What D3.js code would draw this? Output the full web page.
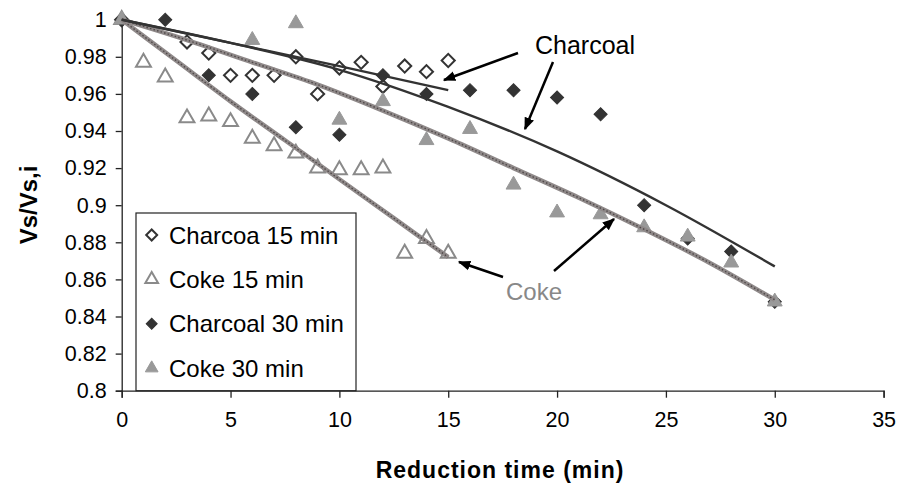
<!DOCTYPE html>
<html>
<head>
<meta charset="utf-8">
<script src="https://cdn.jsdelivr.net/npm/d3@7"></script>
<style>
  html, body { margin: 0; padding: 0; background: #fff; }
  svg { display: block; font-family: "Liberation Sans", Arial, sans-serif; }
</style>
</head>
<body>
<svg id="chart" width="903" height="494"></svg>
<script>
// Relative volume Vs/Vs,i versus reduction time for charcoal and coke
const yTicks = [0.8, 0.82, 0.84, 0.86, 0.88, 0.9, 0.92, 0.94, 0.96, 0.98, 1];
const xTicks = [0, 5, 10, 15, 20, 25, 30, 35];

// Measured points
const charcoal15Time = [0, 3, 4, 5, 6, 7, 8, 9, 10, 11, 12, 13, 14, 15];
const charcoal15Vol  = [1, 0.988, 0.982, 0.970, 0.970, 0.970, 0.980, 0.960, 0.974, 0.977, 0.964, 0.975, 0.972, 0.978];

const coke15Time = [0, 1, 2, 3, 4, 5, 6, 7, 8, 9, 10, 11, 12, 13, 14, 15];
const coke15Vol  = [1, 0.977, 0.969, 0.947, 0.948, 0.945, 0.936, 0.932, 0.928, 0.920, 0.919, 0.919, 0.920, 0.874, 0.882, 0.874];

const charcoal30Time = [0, 2, 4, 6, 8, 10, 12, 14, 16, 18, 20, 22, 24, 26, 28, 30];
const charcoal30Vol  = [1, 1.0, 0.970, 0.960, 0.942, 0.938, 0.970, 0.960, 0.962, 0.962, 0.958, 0.949, 0.900, 0.882, 0.875, 0.848];

const coke30Time = [0, 6, 8, 10, 12, 14, 16, 18, 20, 22, 24, 26, 28, 30];
const coke30Vol  = [1, 0.989, 0.998, 0.946, 0.956, 0.935, 0.941, 0.911, 0.896, 0.895, 0.888, 0.883, 0.869, 0.848];

// Fitted curves
const charcoal15FitTime = [0, 5, 10, 15];
const charcoal15FitVol  = [1, 0.9875, 0.975, 0.962];

const charcoal30FitTime = [0, 5, 10, 15, 20, 25, 30];
const charcoal30FitVol  = [1, 0.9875, 0.973, 0.953, 0.929, 0.900, 0.867];

const coke15FitTime = [0, 2.5, 5, 7.5, 10, 12.5, 15];
const coke15FitVol  = [1, 0.978, 0.956, 0.935, 0.914, 0.893, 0.872];

const coke30FitTime = [0, 3, 6, 9, 12, 15, 18, 21, 24, 27, 30];
const coke30FitVol  = [1, 0.989, 0.977, 0.965, 0.951, 0.936, 0.920, 0.904, 0.887, 0.869, 0.849];

const legendLabels = ["Charcoa 15 min", "Coke 15 min", "Charcoal 30 min", "Coke 30 min"];

const zip = (xs, ys) => xs.map((x, i) => [x, ys[i]]);

const svg = d3.select("#chart");
const x = d3.scaleLinear().domain([0, 35]).range([121.7, 883.6]);
const y = d3.scaleLinear().domain([0.8, 1]).range([390.7, 19.7]);

// Axes
const yAxis = svg.append("g")
  .attr("transform", `translate(${x(0)},0)`)
  .call(d3.axisLeft(y).tickValues(yTicks).tickSize(6).tickPadding(9).tickFormat(d => String(d)));
const xAxis = svg.append("g")
  .attr("transform", `translate(0,${y(0.8)})`)
  .call(d3.axisBottom(x).tickValues(xTicks).tickSize(7).tickPadding(14).tickFormat(d => String(d)));
[yAxis, xAxis].forEach(g => {
  g.select(".domain").attr("stroke", "#222").attr("stroke-width", 1.3);
  g.selectAll(".tick line").attr("stroke", "#222").attr("stroke-width", 1.3);
  g.selectAll(".tick text").attr("fill", "#000").style("font-size", "21.5px")
    .style("font-family", "'Liberation Sans', Arial, sans-serif");
});

svg.append("text")
  .attr("x", 500).attr("y", 478)
  .attr("text-anchor", "middle")
  .style("font-size", "23px").style("font-weight", "bold").style("letter-spacing", "1px")
  .text("Reduction time (min)");

svg.append("text")
  .attr("transform", "translate(37,205) rotate(-90)")
  .attr("text-anchor", "middle")
  .style("font-size", "24px").style("font-weight", "bold")
  .text("Vs/Vs,i");

// Marker shapes
const diamond = d3.symbol().type(d3.symbolSquare).size(86);
const triangle = d3.symbol().type(d3.symbolTriangle).size(96);

const styles = [
  { shape: diamond, rot: 45, fill: "#fff", stroke: "#333", sw: 2 },
  { shape: triangle, rot: 0, fill: "#fff", stroke: "#8a8a8a", sw: 2 },
  { shape: diamond, rot: 45, fill: "#333", stroke: "#333", sw: 1 },
  { shape: triangle, rot: 0, fill: "#999", stroke: "#999", sw: 1 }
];

function drawPoints(data, st) {
  svg.append("g").selectAll("path").data(data).join("path")
    .attr("d", st.shape())
    .attr("transform", d => `translate(${x(d[0])},${y(d[1])}) rotate(${st.rot})`)
    .attr("fill", st.fill).attr("stroke", st.stroke).attr("stroke-width", st.sw);
}

drawPoints(zip(charcoal15Time, charcoal15Vol), styles[0]);
drawPoints(zip(coke15Time, coke15Vol), styles[1]);
drawPoints(zip(charcoal30Time, charcoal30Vol), styles[2]);
drawPoints(zip(coke30Time, coke30Vol), styles[3]);

// Fit lines
const line = d3.line().x(d => x(d[0])).y(d => y(d[1])).curve(d3.curveMonotoneX);

function drawCokeFit(data) {
  svg.append("path").datum(data).attr("d", line)
    .attr("fill", "none").attr("stroke", "#8f8989").attr("stroke-width", 4.5);
  svg.append("path").datum(data).attr("d", line)
    .attr("fill", "none").attr("stroke", "#3e3838").attr("stroke-width", 1.4)
    .attr("stroke-dasharray", "1.5 2.2").attr("opacity", 0.8);
}
function drawCharcoalFit(data) {
  svg.append("path").datum(data).attr("d", line)
    .attr("fill", "none").attr("stroke", "#333").attr("stroke-width", 2.4);
}

drawCokeFit(zip(coke15FitTime, coke15FitVol));
drawCokeFit(zip(coke30FitTime, coke30FitVol));
drawCharcoalFit(zip(charcoal15FitTime, charcoal15FitVol));
drawCharcoalFit(zip(charcoal30FitTime, charcoal30FitVol));

// Legend
const lg = svg.append("g");
lg.append("rect").attr("x", 136).attr("y", 213).attr("width", 220).attr("height", y(0.8) - 213)
  .attr("fill", "#fff").attr("stroke", "#222").attr("stroke-width", 1.2);
legendLabels.forEach((label, i) => {
  const cy = 235 + i * 44.4;
  const st = styles[i];
  const small = st.shape === diamond ? d3.symbol().type(d3.symbolSquare).size(60)
                                     : d3.symbol().type(d3.symbolTriangle).size(70);
  lg.append("path").attr("d", small())
    .attr("transform", `translate(151.7,${cy}) rotate(${st.rot})`)
    .attr("fill", st.fill).attr("stroke", st.stroke).attr("stroke-width", st.sw);
  lg.append("text").attr("x", 169).attr("y", cy + 8.5)
    .style("font-size", "24px").attr("fill", "#000").text(label);
});

// Annotations
const defs = svg.append("defs");
defs.append("marker").attr("id", "arrow").attr("viewBox", "0 0 10 10")
  .attr("refX", 9).attr("refY", 5).attr("markerWidth", 5).attr("markerHeight", 5)
  .attr("orient", "auto")
  .append("path").attr("d", "M0,1 L10,5 L0,9 Z").attr("fill", "#000");

const arrows = [
  [518, 53, 444, 80],
  [553, 62, 525, 129],
  [503, 277, 459, 262],
  [554, 271, 614, 219]
];
svg.append("g").selectAll("line").data(arrows).join("line")
  .attr("x1", d => d[0]).attr("y1", d => d[1]).attr("x2", d => d[2]).attr("y2", d => d[3])
  .attr("stroke", "#000").attr("stroke-width", 2.5).attr("marker-end", "url(#arrow)");

svg.append("text").attr("x", 535).attr("y", 54)
  .style("font-size", "25px").attr("fill", "#000").text("Charcoal");
svg.append("text").attr("x", 506).attr("y", 300)
  .style("font-size", "24px").attr("fill", "#888").text("Coke");
</script>
</body>
</html>
